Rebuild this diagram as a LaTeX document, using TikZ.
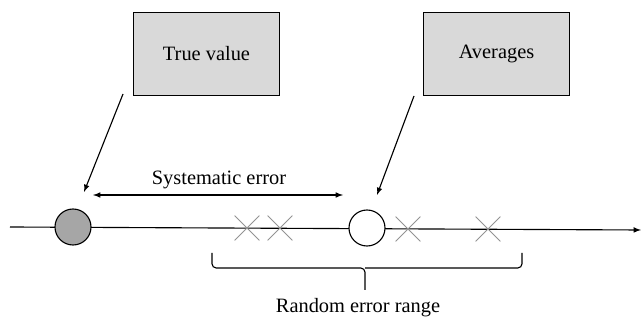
\documentclass[tikz,border=0pt]{standalone}
\usepackage{fontspec}
\setmainfont{Liberation Serif}
\usetikzlibrary{shapes.misc}

\begin{document}
\begin{tikzpicture}[x=0.025cm,y=-0.025cm,
        txt/.style={font=\rmfamily\fontsize{14.5}{17}\selectfont},
        labelbox/.style={txt, draw, line width=1.1pt, fill=gray!30, minimum width=3.65cm, minimum height=2.08cm},
        dot/.style={circle, draw, line width=0.8pt, minimum size=0.9cm, inner sep=0pt},
        xmark/.style={cross out, draw=gray!85, line width=0.6pt, minimum size=0.6cm, inner sep=0pt}]
        \useasboundingbox (0,0) rectangle (641,320);
        % the axis
        \coordinate (axstart) at (10,227);
        \coordinate (axend) at (641,230);
        \draw[line width=0.8pt, -latex] (axstart) -- (axend);
        % true value and averages
        \node[dot, fill=gray!70] (truedot) at (73,227) {};
        \node[dot, fill=white] (avgdot) at (367,228) {};
        \foreach \x/\y in {247/228, 280/228, 408/229, 488/229}
        {
            \node[xmark] at (\x,\y) {};
        }
        \node[labelbox] (truebox) at (206.5,54) {True value};
        \node[labelbox] (avgbox) at (496.5,54) {Averages};
        \coordinate (trueptr) at (84,192);
        \coordinate (avgptr) at (377,195);
        \draw[line width=0.8pt, -latex] (123,94) -- (trueptr);
        \draw[line width=0.8pt, -latex] (414,96) -- (avgptr);
        % systematic error
        \coordinate (syserrA) at (93,195);
        \coordinate (syserrB) at (343,195);
        \draw[line width=0.8pt, latex-latex] (syserrA) -- (syserrB);
        \node[txt] (syslabel) at (219,180) {Systematic error};
        % random error range
        \draw[line width=0.8pt, rounded corners=3pt] (212,253) -- (212,268) -- (365,268) -- (365,290);
        \draw[line width=0.8pt, rounded corners=3pt] (522,253) -- (522,268) -- (365,268);
        \node[txt] (randlabel) at (358,308) {Random error range};
\end{tikzpicture}
\end{document}
